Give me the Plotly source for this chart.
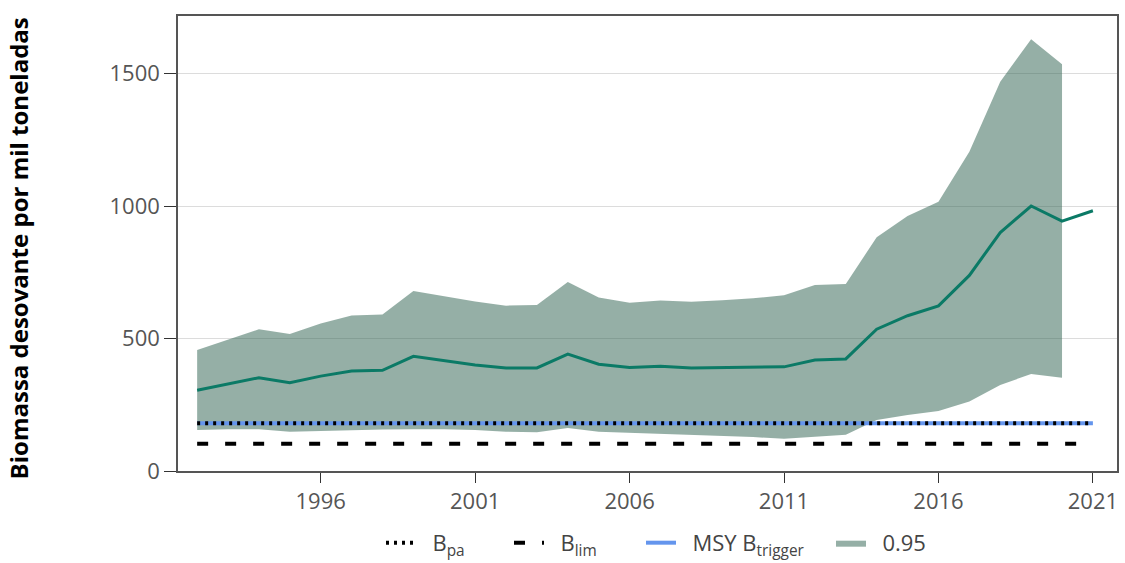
import plotly.graph_objects as go

years = list(range(1992, 2022))
median = [305, 328, 352, 333, 358, 377, 380, 433, 416, 400, 389, 389, 441, 403, 391,
          395, 389, 391, 391, 393, 419, 423, 535, 586, 623, 738, 900, 1000, 943, 982]
band_years = list(range(1992, 2021))
upper = [457, 495, 535, 517, 557, 587, 591, 679, 660, 640, 624, 626, 713, 655, 635,
         643, 639, 644, 652, 663, 702, 706, 882, 962, 1016, 1205, 1469, 1629, 1535]
lower = [155, 158, 158, 148, 151, 155, 157, 158, 158, 155, 148, 146, 162, 148, 144,
         141, 136, 132, 128, 122, 130, 137, 192, 211, 226, 262, 325, 366, 352]
bpa_value = 180
blim_value = 103
msy_btrigger_value = 180

ref_years = [years[0], years[-1]]
NB = "\u00a0\u00a0"

fig = go.Figure()

fig.add_trace(go.Scatter(x=band_years, y=lower, mode="lines", line=dict(width=0),
                         showlegend=False, hoverinfo="skip"))
fig.add_trace(go.Scatter(x=band_years, y=upper, mode="lines", line=dict(width=0),
                         fill="tonexty", fillcolor="rgba(43,95,77,0.5)",
                         name=NB + "0.95", legend="legend4"))
fig.add_trace(go.Scatter(x=years, y=median, mode="lines",
                         line=dict(color="#0b7a66", width=3), showlegend=False))
fig.add_trace(go.Scatter(x=ref_years, y=[msy_btrigger_value] * 2, mode="lines",
                         line=dict(color="#6495ED", width=4),
                         name=NB + "MSY B<sub>trigger</sub>", legend="legend3"))
fig.add_trace(go.Scatter(x=ref_years, y=[bpa_value] * 2, mode="lines",
                         line=dict(color="black", width=4, dash="3px,5px"),
                         name=NB + "B<sub>pa</sub>", legend="legend"))
fig.add_trace(go.Scatter(x=ref_years, y=[blim_value] * 2, mode="lines",
                         line=dict(color="black", width=4, dash="11px,17px"),
                         name=NB + "B<sub>lim</sub>", legend="legend2"))

legend_font = dict(family="Open Sans, DejaVu Sans, sans-serif", size=22, color="#444")


def leg(xpx):
    return dict(orientation="h", x=(xpx - 178) / 939, xanchor="left",
                y=-0.158, yanchor="middle", font=legend_font,
                bgcolor="rgba(0,0,0,0)", borderwidth=0)


fig.update_layout(
    width=1125, height=563,
    margin=dict(l=178, r=8, t=16, b=92, autoexpand=False),
    plot_bgcolor="white", paper_bgcolor="white",
    font=dict(family="Open Sans, DejaVu Sans, sans-serif", size=22, color="#444"),
    legend=leg(381), legend2=leg(509), legend3=leg(641), legend4=leg(831),
    annotations=[dict(text="<b>Biomassa desovante por mil toneladas</b>",
                      xref="paper", yref="paper", x=-0.17, y=0.49,
                      xanchor="center", yanchor="middle", textangle=-90,
                      showarrow=False,
                      font=dict(family="Open Sans, sans-serif", size=24, color="black"))],
)
fig.update_xaxes(range=[1991.38, 2021.78], tick0=1996, dtick=5, showgrid=False,
                 showline=True, linecolor="#555", linewidth=1.5, mirror=True,
                 ticks="outside", ticklen=10, tickcolor="#333", automargin=False,
                 tickfont=dict(size=22, color="#555"), zeroline=False)
fig.update_yaxes(range=[0, 1717], tickvals=[0, 500, 1000, 1500], showgrid=True,
                 gridcolor="#dcdcdc", gridwidth=1, automargin=False,
                 showline=True, linecolor="#555", linewidth=1.5, mirror=True,
                 ticks="outside", ticklen=12, tickcolor="#333",
                 tickfont=dict(size=22, color="#555"), zeroline=False)

fig.write_html("out.html", config={"displayModeBar": False},
               post_script="document.body.style.margin='0';document.body.style.padding='0';")
